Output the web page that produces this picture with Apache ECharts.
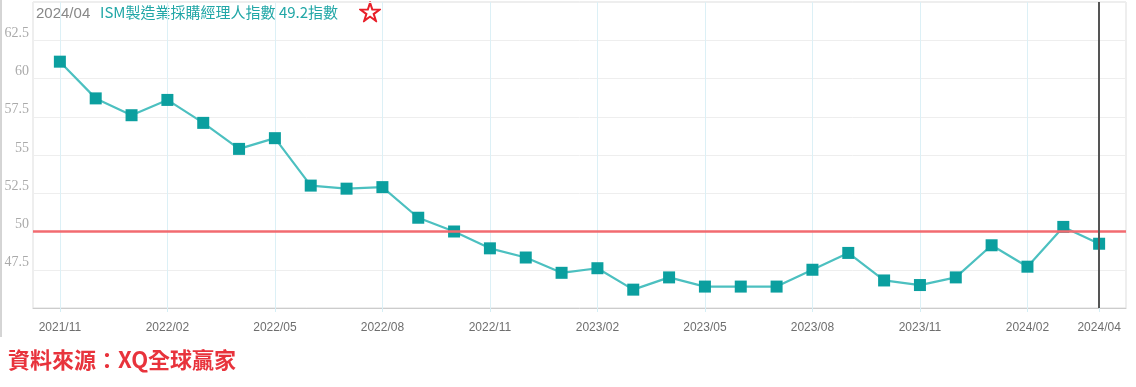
<!DOCTYPE html>
<html><head><meta charset="utf-8">
<script src="https://cdn.jsdelivr.net/npm/echarts@6/dist/echarts.min.js"></script>
<style>html,body{margin:0;padding:0;background:#fff}#c{width:1136px;height:387px}</style>
</head><body><div id="c"></div>
<script>
const months = ['2021/11','2021/12','2022/01','2022/02','2022/03','2022/04','2022/05','2022/06','2022/07','2022/08','2022/09','2022/10','2022/11','2022/12','2023/01','2023/02','2023/03','2023/04','2023/05','2023/06','2023/07','2023/08','2023/09','2023/10','2023/11','2023/12','2024/01','2024/02','2024/03','2024/04'];
const pmi = [61.1,58.7,57.6,58.6,57.1,55.4,56.1,53.0,52.8,52.9,50.9,50.0,48.9,48.3,47.3,47.6,46.2,47.0,46.4,46.4,46.4,47.5,48.6,46.8,46.5,47.0,49.1,47.7,50.3,49.2];
const yTickLabels = ['47.5','50','52.5','55','57.5','60','62.5'];
const xLabelMonths = ['2021/11','2022/02','2022/05','2022/08','2022/11','2023/02','2023/05','2023/08','2023/11','2024/02','2024/04'];
const threshold = 50;
const latestMonth = '2024/04';
const dateText = '2024/04';
const titleText = 'ISM製造業採購經理人指數 49.2指數';
const sourceText = '資料來源：XQ全球贏家';

const labelIdx = xLabelMonths.map(m => months.indexOf(m));
const chart = echarts.init(document.getElementById('c'));
chart.setOption({
  animation: false,
  grid: {left: 33, right: 10, top: 2, bottom: 79, show: true, borderColor: '#ddd', borderWidth: 1},
  xAxis: {
    type: 'value', min: -0.75, max: 29.75,
    axisLine: {show: true, lineStyle: {color: '#ccc'}},
    axisTick: {show: true, customValues: labelIdx, length: 4, lineStyle: {color: '#d5eef5'}},
    axisLabel: {customValues: labelIdx, formatter: v => months[Math.round(v)], color: '#6e6e6e', fontSize: 12, margin: 14, fontFamily: 'Liberation Sans'},
    splitLine: {show: true, lineStyle: {color: '#dcf0f6'}}
  },
  yAxis: {
    type: 'value', min: 45, max: 65, interval: 2.5,
    axisLine: {show: false}, axisTick: {show: false},
    axisLabel: {formatter: v => yTickLabels.includes(String(v)) ? String(v) : '', color: '#aaa', fontSize: 14, fontFamily: 'Liberation Serif', verticalAlign: 'bottom', margin: 4},
    splitLine: {show: true, lineStyle: {color: '#eeeeee'}}
  },
  series: [
    {type: 'line', data: [], z: 1, markLine: {silent: true, symbol: 'none', label: {show: false},
      data: [{yAxis: threshold, lineStyle: {color: '#f26b70', width: 2.5, type: 'solid'}}]}},
    {type: 'line', z: 2, data: pmi.map((v, i) => [i, v]), symbol: 'rect', symbolSize: 12,
      itemStyle: {color: '#0b9f9f'}, lineStyle: {color: '#4cc0c0', width: 2.2}},
    {type: 'line', data: [], z: 3, markLine: {silent: true, symbol: 'none', label: {show: false},
      data: [{xAxis: months.indexOf(latestMonth), lineStyle: {color: '#555', width: 2, type: 'solid'}}]}}
  ],
  graphic: [
    {type: 'line', shape: {x1: 1, y1: 0, x2: 1, y2: 337}, style: {stroke: '#aaa', lineWidth: 1}},
    {type: 'text', left: 36, top: 6, style: {text: dateText, fill: '#888', fontSize: 15, fontFamily: 'Liberation Sans'}},
    {type: 'text', left: 100, top: 5, style: {text: titleText, fill: '#22a7a7', fontSize: 15, fontFamily: 'Noto Sans CJK TC'}},
    {type: 'text', left: 357, top: 0, style: {text: '☆', fill: '#e8202a', fontSize: 28, fontFamily: 'DejaVu Sans', stroke: '#e8202a', lineWidth: 1.2}},
    {type: 'text', left: 8, top: 349, style: {text: sourceText, fill: '#e8333c', fontSize: 22, fontWeight: 'bold', fontFamily: 'Noto Sans CJK TC'}}
  ]
});
</script></body></html>
